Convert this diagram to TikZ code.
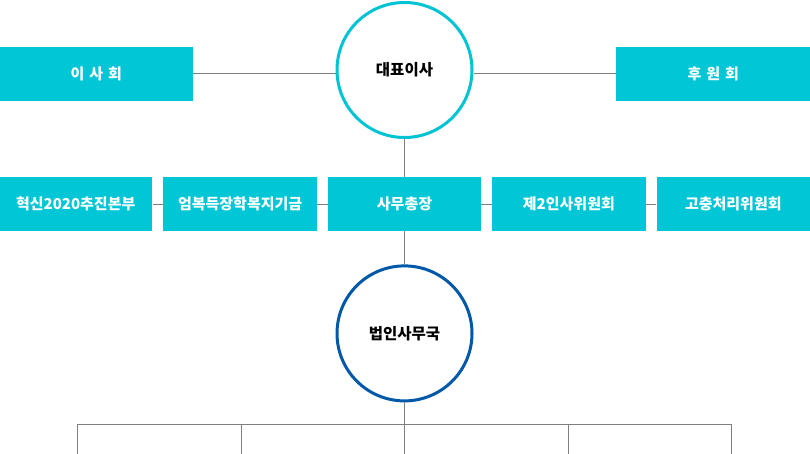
\documentclass[tikz,border=0pt]{standalone}
\usepackage{fontspec}
\setmainfont{Noto Sans CJK KR}
\usepackage{tikz}
\usetikzlibrary{positioning}
\definecolor{boxcyan}{HTML}{00C6D6}
\definecolor{ringcyan}{HTML}{00C3D4}
\definecolor{ringblue}{HTML}{0058A8}
\definecolor{linegray}{HTML}{7F7F7F}
\newcommand{\gapchar}{\hspace{5pt}}

\begin{document}
\begin{tikzpicture}[x=1pt,y=-1pt,
		g/.style={rectangle,fill=boxcyan,text=white,minimum height=54pt,inner sep=0pt,font=\fontsize{15}{18}\selectfont\bfseries},
		o/.style={circle,draw,line width=3pt,minimum size=135pt,inner sep=0pt,fill=white,font=\fontsize{15.5}{18}\selectfont\bfseries},
		a/.style={draw=linegray,line width=1pt}
		]
		\useasboundingbox (0,0) rectangle (810,454);
		
		\node [o,draw=ringcyan] (ceo) at (404.5,70) {대표이사};
		\node [node distance=142.5pt,g,minimum width=193pt,yshift=-4pt,left=of ceo] (board) {이\gapchar 사\gapchar 회};
		\node [node distance=142.5pt,g,minimum width=194pt,yshift=-4pt,right=of ceo] (support) {후\gapchar 원\gapchar 회};
		
		\node [node distance=38pt,g,minimum width=153.5pt,below=of ceo] (general) {사무총장};
		\node [node distance=10.5pt,g,minimum width=153.5pt,left=of general] (fund) {엄복득장학복지기금};
		\node [node distance=10.5pt,g,minimum width=153.5pt,left=of fund] (reform) {혁신2020추진본부};
		\node [node distance=10.5pt,g,minimum width=153.5pt,right=of general] (personnel) {제2인사위원회};
		\node [node distance=10.5pt,g,minimum width=153.5pt,right=of personnel] (grievance) {고충처리위원회};
		
		\node [node distance=33pt,o,draw=ringblue,below=of general] (office) {법인사무국};
		
		\coordinate (bus) at ([yshift=-22pt]office.south);
		\foreach \x [count=\i] in {77,241,404.5,568,731} {
			\coordinate (tap\i) at (\x,424);
			\coordinate (drop\i) at (\x,454);
		}
		
		\path [a] (board.east) -- (board.east -| ceo.west);
		\path [a] (support.west) -- (support.west -| ceo.east);
		\path [a] (ceo) -- (general);
		\path [a] (reform) -- (fund);
		\path [a] (fund) -- (general);
		\path [a] (general) -- (personnel);
		\path [a] (personnel) -- (grievance);
		\path [a] (general) -- (office);
		\path [a] (office) -- (bus);
		\path [a] (tap1) -- (tap5);
		\foreach \i in {1,...,5}
			\path [a] (tap\i) -- (drop\i);
		
	\end{tikzpicture}
\end{document}
